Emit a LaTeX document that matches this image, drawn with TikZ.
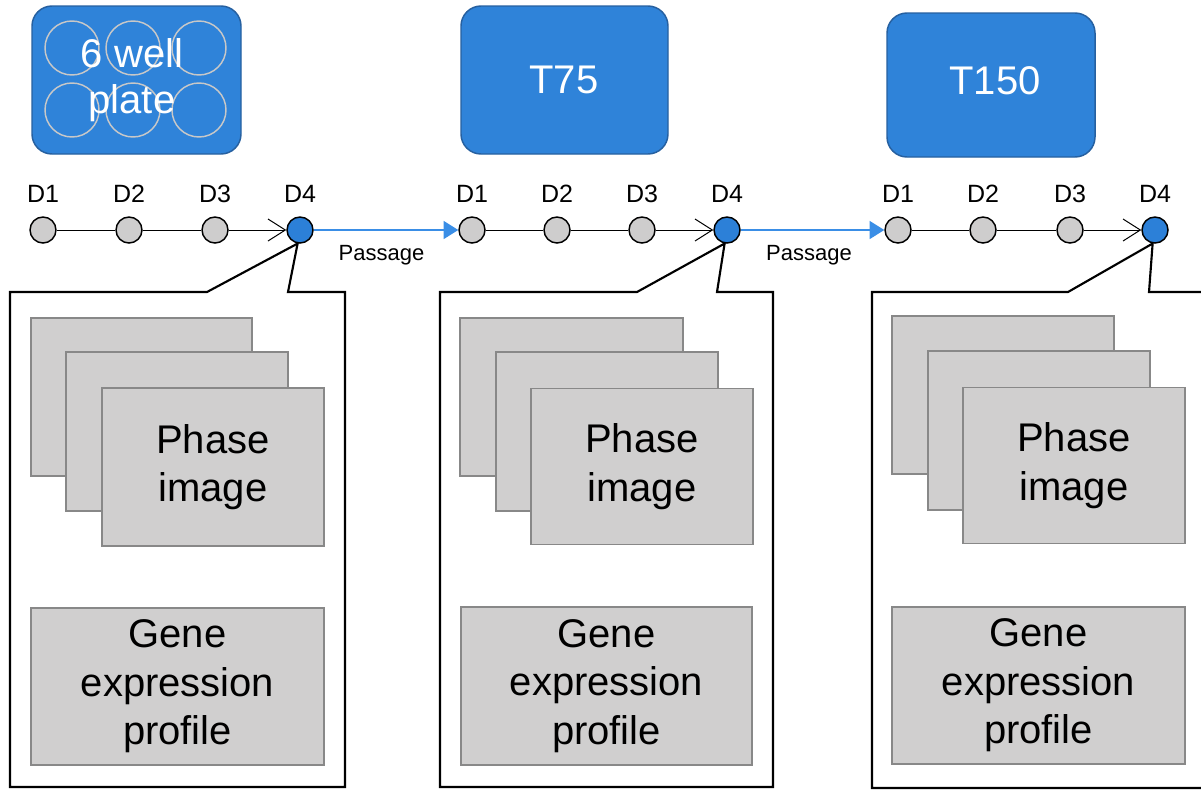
\documentclass[tikz,border=0pt]{standalone}
\usepackage{fontspec}
\setmainfont{Liberation Sans}
\usetikzlibrary{arrows.meta,calc}
\pgfdeclarelayer{background}
\pgfsetlayers{background,main}
\definecolor{plateblue}{RGB}{47,131,217}
\definecolor{plateedge}{RGB}{38,96,160}
\definecolor{passblue}{RGB}{58,142,230}
\definecolor{boxgray}{RGB}{208,207,207}
\definecolor{boxedge}{RGB}{136,136,136}
\definecolor{dotgray}{RGB}{206,205,205}
\definecolor{dotblue}{RGB}{44,128,216}
\definecolor{wellgray}{RGB}{200,200,200}
\begin{document}
\begin{tikzpicture}[x=0.75pt,y=-0.75pt,
  vessel/.style={draw=plateedge,line width=1.1pt,fill=plateblue,rounded corners=15pt,inner sep=0pt},
  vesseltext/.style={text=white,font=\fontsize{30}{34.5}\selectfont,align=center,inner sep=0pt},
  well/.style={draw=wellgray,line width=1.1pt},
  dayname/.style={font=\fontsize{18.75}{22}\selectfont,inner sep=0pt},
  dot/.style={circle,draw=black,line width=1.1pt,fill=dotgray,minimum size=19.5pt,inner sep=0pt},
  dotsel/.style={dot,fill=dotblue},
  dayline/.style={draw=black,line width=0.75pt},
  lastday/.style={dayline,-{Straight Barb[length=13pt,width=16.5pt,line width=0.75pt]}},
  passage/.style={draw=passblue,line width=1.1pt,-{Triangle[length=11pt,width=13.5pt]}},
  passlabel/.style={font=\fontsize{16.5}{20}\selectfont,inner sep=0pt},
  callout/.style={draw=black,line width=1.6pt,fill=white,line join=miter},
  imgbox/.style={draw=boxedge,line width=1.4pt,fill=boxgray},
  imgnode/.style={imgbox,inner sep=0pt,align=center,font=\fontsize{30}{36.4}\selectfont}
]
\useasboundingbox (0,0) rectangle (1201,790);
\clip (0,0) rectangle (1201,790);

% ---------- vessels ----------
\node[vessel,minimum width=156.75pt,minimum height=111pt] (v1) at (136.5,80) {};
\foreach \cx/\cy in {72/48,133/48,199/48,72/110,133/110,199/110}
  \draw[well] (\cx,\cy) circle[radius=20.25pt];
\node[vesseltext] (v1t) at (132,80) {6 well\\plate};

\node[vessel,minimum width=155.25pt,minimum height=111pt] (v2) at (564.5,80) {};
\node[vesseltext] (v2t) at (564,80) {T75};

\node[vessel,minimum width=156pt,minimum height=108pt] (v3) at (991,85) {};
\node[vesseltext] (v3t) at (995,81) {T150};

% ---------- timelines ----------
\foreach \p/\a/\b/\c/\d in {1/43/129/215/300, 2/472/557/642/727, 3/898/983/1070/1155}{
  \node[dot] (p\p d1) at (\a,230) {};
  \node[dot] (p\p d2) at (\b,230) {};
  \node[dot] (p\p d3) at (\c,230) {};
  \node[dotsel] (p\p d4) at (\d,230) {};
  \node[dayname] (p\p l1) at (\a,194) {D1};
  \node[dayname] (p\p l2) at (\b,194) {D2};
  \node[dayname] (p\p l3) at (\c,194) {D3};
  \node[dayname] (p\p l4) at (\d,194) {D4};
  \draw[dayline] (p\p d1) -- (p\p d2);
  \draw[dayline] (p\p d2) -- (p\p d3);
  \draw[lastday] (p\p d3) -- (p\p d4);
}

\draw[passage] (p1d4) -- (p2d1);
\node[passlabel] (pass1) at (381.5,255) {Passage};
\draw[passage] (p2d4) -- (p3d1);
\node[passlabel] (pass2) at (809,255) {Passage};

% ---------- callouts ----------
\begin{pgfonlayer}{background}
\draw[callout] (10,292) -- (207,292) -- (p1d4.-100) -- (288,292) -- (345,292) -- (345,787) -- (10,787) -- cycle;
\draw[callout] (440,292) -- (637,292) -- (p2d4.-100) -- (717,292) -- (773,292) -- (773,787) -- (440,787) -- cycle;
\draw[callout] (872,292) -- (1068,292) -- (p3d4.-100) -- (1149,292) -- (1215,292) -- (1215,788) -- (872,788) -- cycle;
\end{pgfonlayer}

% ---------- panel 1 contents ----------
\draw[imgbox] (31,318) rectangle (252,476);
\draw[imgbox] (66,352) rectangle (288,511);
\node[imgnode,minimum width=166.5pt,minimum height=118.5pt] (ph1) at (213,467) {Phase\\image};
\node[imgnode,minimum width=219.75pt,minimum height=117.75pt] (ge1) at (177.5,686.5) {Gene\\expression\\profile};

% ---------- panel 2 contents ----------
\draw[imgbox] (460,318) rectangle (683,476);
\draw[imgbox] (496,352) rectangle (718,511);
\node[imgnode,minimum width=166.5pt,minimum height=117pt] (ph2) at (642,466.5) {Phase\\image};
\node[imgnode,minimum width=218.25pt,minimum height=118.5pt] (ge2) at (606.5,686) {Gene\\expression\\profile};

% ---------- panel 3 contents ----------
\draw[imgbox] (892,316) rectangle (1114,474);
\draw[imgbox] (928,351) rectangle (1150,510);
\node[imgnode,minimum width=166.5pt,minimum height=117pt] (ph3) at (1074,465.5) {Phase\\image};
\node[imgnode,minimum width=219.75pt,minimum height=117.75pt] (ge3) at (1038.5,685.5) {Gene\\expression\\profile};
\end{tikzpicture}
\end{document}
